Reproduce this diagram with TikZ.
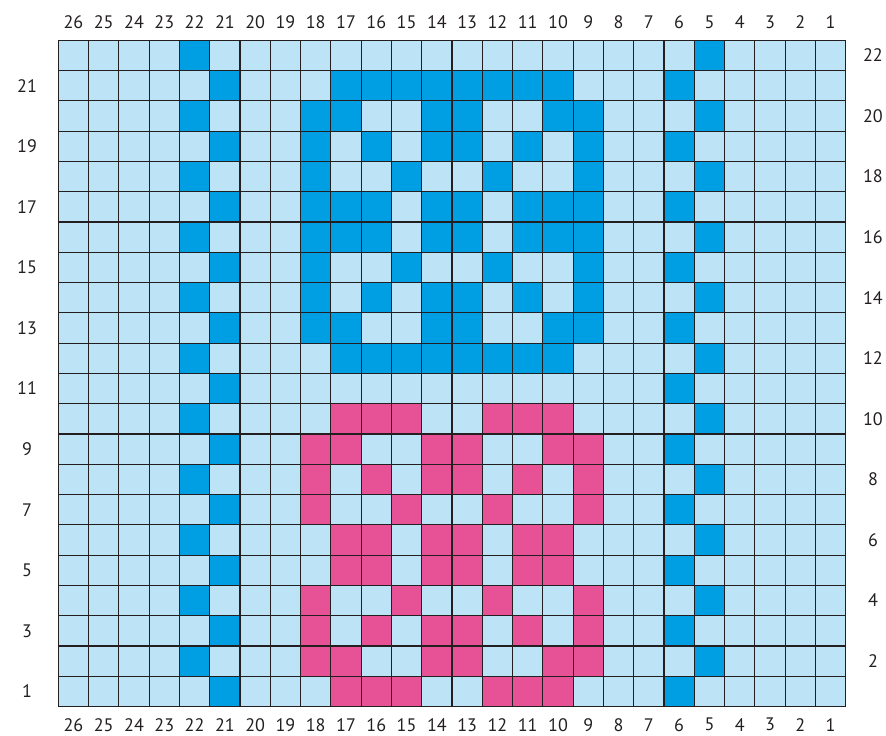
\documentclass[tikz,border=0pt]{standalone}
\usepackage{fontspec}
\setmainfont{PT Sans}
\definecolor{paleblue}{HTML}{BDE3F7}
\definecolor{deepblue}{HTML}{009FE3}
\definecolor{rosepink}{HTML}{E75297}
\definecolor{gridline}{HTML}{231F20}
\begin{document}
\begin{tikzpicture}[
  x=1cm, y=1cm,
  stitch/.style={fill=#1},
  stitch/.default=deepblue,
  chartgrid/.style={draw=gridline, line width=0.04cm},
  numlbl/.style={font=\fontsize{17}{20}\selectfont, text=gridline, inner sep=0pt}
]
\useasboundingbox (-1.925,-0.97) rectangle (27.33,23.33);

% Background of the chart
\fill[paleblue] (0,0) rectangle (26,22);

% Side stripes (columns 22/21 and 6/5)
\foreach \r in {2,4,...,22} {
  \fill[stitch] (4,\r-1) rectangle ++(1,1);
  \fill[stitch] (21,\r-1) rectangle ++(1,1);
}
\foreach \r in {1,3,...,21} {
  \fill[stitch] (5,\r-1) rectangle ++(1,1);
  \fill[stitch] (20,\r-1) rectangle ++(1,1);
}

% Blue motif (rows 21 to 12)
\foreach \r/\cols in {21/{17,16,15,14,13,12,11,10}, 20/{18,17,14,13,10,9},
    19/{18,16,14,13,11,9}, 18/{18,15,12,9}, 17/{18,17,16,14,13,11,10,9},
    16/{18,17,16,14,13,11,10,9}, 15/{18,15,12,9}, 14/{18,16,14,13,11,9},
    13/{18,17,14,13,10,9}, 12/{17,16,15,14,13,12,11,10}} {
  \foreach \c in \cols
    \fill[stitch] (26-\c,\r-1) rectangle ++(1,1);
}

% Pink motif (rows 10 to 1)
\foreach \r/\cols in {10/{17,16,15,12,11,10}, 9/{18,17,14,13,10,9},
    8/{18,16,14,13,11,9}, 7/{18,15,12,9}, 6/{17,16,14,13,11,10},
    5/{17,16,14,13,11,10}, 4/{18,15,12,9}, 3/{18,16,14,13,11,9},
    2/{18,17,14,13,10,9}, 1/{17,16,15,12,11,10}} {
  \foreach \c in \cols
    \fill[stitch=rosepink] (26-\c,\r-1) rectangle ++(1,1);
}

% Grid lines
\draw[chartgrid] (0,0) grid (26,22);

% Column numbers
\foreach \c in {1,...,26} {
  \node[numlbl] (colT\c) at (26.5-\c,22.61) {\c};
  \node[numlbl] (colB\c) at (26.5-\c,-0.6) {\c};
}

% Row numbers: odd on the left, even on the right
\foreach \r in {1,3,...,21}
  \node[numlbl] (rowL\r) at (-1.03,\r-0.5) {\r};
\foreach \r in {2,4,...,22}
  \node[numlbl] (rowR\r) at (26.9,\r-0.5) {\r};

\end{tikzpicture}
\end{document}
